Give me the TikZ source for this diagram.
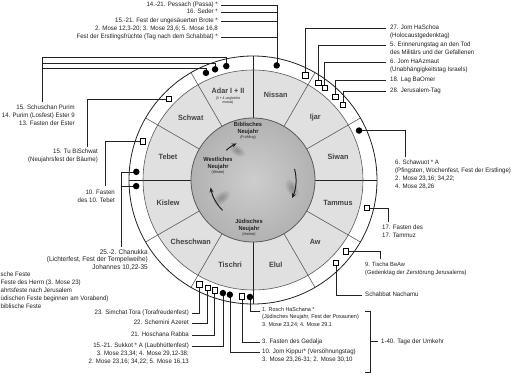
\documentclass[tikz,border=0pt]{standalone}
\usepackage{fontspec}
\setmainfont[FakeStretch=0.95]{Liberation Sans}
\usetikzlibrary{arrows.meta}
\definecolor{monthfill}{HTML}{E0E0E0}
\definecolor{discin}{HTML}{CDCDCD}
\definecolor{discout}{HTML}{B2B2B2}
\definecolor{ink}{HTML}{222222}
\definecolor{divgray}{HTML}{5A5A5A}
\begin{document}
\begin{tikzpicture}[x=1pt,y=-1pt,
  lab/.style={font=\fontsize{6.4}{7.8}\selectfont, inner sep=0pt, align=left, anchor=north west, text=ink},
  labr/.style={lab, align=right, anchor=north east},
  conn/.style={draw=ink, line width=0.45pt},
  dotm/.style={circle, fill=black, minimum size=6.5pt, inner sep=0pt},
  sqm/.style={rectangle, draw=black, fill=white, line width=0.55pt, minimum size=5.5pt, inner sep=0pt},
  month/.style={font=\fontsize{7.6}{9}\selectfont\bfseries, text=ink!85, inner sep=0pt},
  disclab/.style={font=\fontsize{5.9}{6.6}\selectfont\bfseries, text=ink, inner sep=0pt, align=center, anchor=north},
  divider/.style={draw=divgray, line width=0.6pt},
  cardinal/.style={draw=ink, line width=0.9pt},
  wheelarrow/.style={draw=ink, line width=1pt, -{Stealth[length=5pt,width=4pt]}}]
\useasboundingbox (0,0) rectangle (525,383);
\clip (0,0) rectangle (525,383);
\fill[white] (0,0) rectangle (525,383);

% ---------------- wheel ----------------
\begin{scope}[shift={(253,180)}, yscale=-1]
  \fill[white] (0,0) circle[radius=124];
  \fill[monthfill] (0,0) circle[radius=110];
  \shade[inner color=discin, outer color=discout] (0,0) circle[radius=62];
  % soft shadows of the swirl
  \foreach \s in {1,...,6} {
    \fill[black, opacity=0.045, rotate around={60:(-12:40)}] (-12:40) ellipse[x radius=1.6*\s, y radius=0.9*\s];
    \fill[black, opacity=0.045, rotate around={-40:(-150:36)}] (-150:36) ellipse[x radius=1.6*\s, y radius=0.9*\s];
    \fill[black, opacity=0.045, rotate around={30:(118:33)}] (118:33) ellipse[x radius=1.4*\s, y radius=0.8*\s];
  }
  \foreach \a in {30,60,120,150,210,240,300,330} \draw[divider] (\a:62) -- (\a:124);
  \foreach \a in {0,90,180,270} \draw[cardinal] (\a:62) -- (\a:124);
  \draw[draw=divgray, line width=0.6pt] (0,0) circle[radius=110];
  \draw[draw=ink, line width=0.8pt] (0,0) circle[radius=124];
  \draw[draw=divgray, line width=0.8pt] (0,0) circle[radius=62];
  % swirl arrows
  \draw[wheelarrow] (225:43) arc[start angle=225, end angle=190, radius=43];
  \draw[wheelarrow] (132:40) arc[start angle=132, end angle=114, radius=40];
  \draw[wheelarrow] (15:43) arc[start angle=15, end angle=-25, radius=43];
  % months
  \node[month] (nissan) at (75:88) {Nissan};
  \node[month] (ijar) at (45:88) {Ijar};
  \node[month] (siwan) at (15:88) {Siwan};
  \node[month] (tammus) at (-15:88) {Tammus};
  \node[month] (aw) at (-45:88) {Aw};
  \node[month] (elul) at (-75:88) {Elul};
  \node[month] (tischri) at (-105:88) {Tischri};
  \node[month] (cheschwan) at (-135:88) {Cheschwan};
  \node[month] (kislew) at (-165:88) {Kislew};
  \node[month] (tebet) at (165:88) {Tebet};
  \node[month] (schwat) at (135:88) {Schwat};
  % marker positions
  \coordinate (pA1) at (113.7:117);
  \coordinate (pA2) at (108.9:117);
  \coordinate (pA3) at (103.2:117);
  \coordinate (pN) at (78.3:117);
  \coordinate (pS1) at (63.4:117);
  \coordinate (pS2) at (56:117);
  \coordinate (pS3) at (52.2:117);
  \coordinate (pS4) at (45.3:117);
  \coordinate (pS5) at (39.9:117);
  \coordinate (pW) at (25:117);
  \coordinate (pT) at (-13.8:117);
  \coordinate (pAw1) at (-37.4:117);
  \coordinate (pAw2) at (-45:117);
  \coordinate (pR) at (-91.5:117);
  \coordinate (pG) at (-95.4:117);
  \coordinate (pK) at (-101.4:117);
  \coordinate (pSu) at (-104.9:117);
  \coordinate (pH) at (-109.2:117);
  \coordinate (pSA) at (-112.8:117);
  \coordinate (pST) at (-117.2:117);
  \coordinate (pC1) at (176:117);
  \coordinate (pC2) at (183:117);
  \coordinate (pTe) at (160.6:117);
  \coordinate (pTu) at (136:117);
\end{scope}

% Adar and disc labels
\node[month] (adar) at (228,91) {Adar I + II};
\node[font=\fontsize{3.6}{4}\selectfont, inner sep=0pt, align=center, text=ink] (adarsub) at (228,100.5) {(3 + 4 ungleiche\\monat)};
\node[disclab] (bib) at (248,122) {Biblisches\\Neujahr\\[-1pt]{\fontsize{3.8}{4.2}\selectfont\mdseries (Frühling)}};
\node[disclab] (west) at (218,157) {Westliches\\Neujahr\\[-1pt]{\fontsize{3.8}{4.2}\selectfont\mdseries (Winter)}};
\node[disclab] (jued) at (249,219) {Jüdisches\\Neujahr\\[-1pt]{\fontsize{3.8}{4.2}\selectfont\mdseries (Herbst)}};

% ---------------- labels ----------------
\node[labr] (pes1) at (218,2) {14.-21. Pessach (Passa) *};
\node[labr] (pes2) at (218,9) {16. Seder *};
\node[labr] (pes3) at (218,18) {15.-21. Fest der ungesäuerten Brote *\\2. Mose 12,3-20; 3. Mose 23,6; 5. Mose 16,8};
\node[labr] (pes4) at (218,34) {Fest der Erstlingsfrüchte (Tag nach dem Schabbat) *};

\node[lab] (schoa) at (390,25) {27. Jom HaSchoa\\(Holocaustgedenktag)};
\node[lab] (erinn) at (390,42) {5. Erinnerungstag an den Tod\\des Militärs und der Gefallenen};
\node[lab] (atz) at (390,59) {6. Jom HaAzmaut\\(Unabhängigkeitstag Israels)};
\node[lab] (lag) at (390,77) {18. Lag BaOmer};
\node[lab] (jer) at (390,88) {28. Jerusalem-Tag};
\node[lab] (schaw) at (395,160) {6. Schawuot * A\\(Pfingsten, Wochenfest, Fest der Erstlinge)\\2. Mose 23,16; 34,22;\\4. Mose 28,26};
\node[lab] (tam) at (382,225) {17. Fasten des\\17. Tammuz};
\node[lab, font=\fontsize{6}{7.8}\selectfont] (tisch) at (365,262) {9. Tischa BeAw\\(Gedenktag der Zerstörung Jerusalems)};
\node[lab] (nach) at (365,292) {Schabbat Nachamu};
\node[lab] (umk) at (381,338.4) {1-40. Tage der Umkehr};
\node[lab, font=\fontsize{5.7}{7.4}\selectfont] (rosch) at (262,307.2) {1. Rosch HaSchana *\\(Jüdisches Neujahr, Fest der Posaunen)\\3. Mose 23,24; 4. Mose 29,1};
\node[lab] (ged) at (262,339) {3. Fasten des Gedalja};
\node[lab] (kip) at (262,349) {10. Jom Kippur* (Versöhnungstag)\\3. Mose 23,26-31; 2. Mose 30,10};

\node[labr] (st) at (189,310) {23. Simchat Tora (Torafreudenfest)};
\node[labr] (sa) at (189,320) {22. Schemini Azeret};
\node[labr] (hr) at (189,332) {21. Hoschana Rabba};
\node[labr] (suk) at (189,343) {15.-21. Sukkot * A (Laubhüttenfest)\\3. Mose 23,34; 4. Mose 29,12-38;\\2. Mose 23,16; 34,22; 5. Mose 16,13};
\node[labr, font=\fontsize{6.8}{7.8}\selectfont] (chan) at (148,249) {25.-2. Chanukka\\(Lichterfest, Fest der Tempelweihe)\\Johannes 10,22-35};
\node[labr] (teb) at (115,190) {10. Fasten\\des 10. Tebet};
\node[labr] (tu) at (98,149) {15. Tu BiSchwat\\(Neujahrsfest der Bäume)};
\node[labr] (purim) at (75,105) {15. Schuschan Purim\\14. Purim (Losfest) Ester 9\\13. Fasten der Ester};

% legend (as far as the picture shows it, cut at the left edge)
\node[lab] (leg1) at (0.5,272) {sche Feste};
\node[lab] (leg2) at (0.5,280) {Feste des Herrn (3. Mose 23)};
\node[lab] (leg3) at (0.5,288) {ahrtsfeste nach Jerusalem};
\node[lab] (leg4) at (0.5,296) {üdischen Feste beginnen am Vorabend)};
\node[lab] (leg5) at (0.5,304) {biblische Feste};

% ---------------- connectors ----------------
\coordinate (cP1) at (221,5);
\coordinate (cP2) at (221,12);
\coordinate (cP3) at (221,21);
\coordinate (cP4) at (221,37);
\foreach \c in {cP1,cP2,cP3,cP4} \draw[conn] (pN) |- (\c);
\coordinate (cU1) at (42,57);
\coordinate (cU2) at (42,63);
\coordinate (cU3) at (42,68);
\coordinate (cU4) at (42,102);
\draw[conn] (pA3) |- (cU1) -- (cU4);
\draw[conn] (pA2) |- (cU2);
\draw[conn] (pA1) |- (cU3);
\coordinate (cS1) at (386,28);
\coordinate (cS2) at (386,45);
\coordinate (cS3) at (386,62);
\coordinate (cS4) at (386,80);
\coordinate (cS5) at (386,91);
\draw[conn] (pS1) |- (cS1);
\draw[conn] (pS2) |- (cS2);
\draw[conn] (pS3) |- (cS3);
\draw[conn] (pS4) |- (cS4);
\draw[conn] (pS5) |- (cS5);
\coordinate (cW) at (405,157);
\draw[conn] (pW) -| (cW);
\coordinate (cT) at (388,222);
\draw[conn] (pT) -| (cT);
\coordinate (cAw1) at (380,259);
\draw[conn] (pAw1) -| (cAw1);
\coordinate (cAw2) at (362,295);
\draw[conn] (pAw2) |- (cAw2);
\coordinate (cR) at (260,311);
\coordinate (cG) at (260,342);
\coordinate (cK) at (260,352);
\draw[conn] (pR) |- (cR);
\draw[conn] (pG) |- (cG);
\draw[conn] (pK) |- (cK);
\coordinate (cSu) at (192,346);
\coordinate (cH) at (192,335);
\coordinate (cSA) at (192,323);
\coordinate (cST) at (192,313);
\draw[conn] (pSu) |- (cSu);
\draw[conn] (pH) |- (cH);
\draw[conn] (pSA) |- (cSA);
\draw[conn] (pST) |- (cST);
\coordinate (cC) at (121,247);
\draw[conn] (pC1) -| (cC);
\draw[conn] (pC2) -| (cC);
\coordinate (cTe) at (105,186);
\draw[conn] (pTe) -| (cTe);
\coordinate (cTu) at (87,147);
\draw[conn] (pTu) -| (cTu);
% bracket 1-40
\coordinate (bA) at (365,311);
\coordinate (bB) at (370,311);
\coordinate (bC) at (370,372);
\coordinate (bD) at (365,372);
\coordinate (bM) at (370,341.5);
\coordinate (bN) at (378,341.5);
\draw[conn] (bA) -- (bB) -- (bC) -- (bD);
\draw[conn] (bM) -- (bN);

% ---------------- markers ----------------
\foreach \p in {pA1,pA2,pA3,pN,pW,pR,pK,pSu,pC1,pC2}
  \node[dotm] (m\p) at (\p) {};
\foreach \p in {pS1,pS2,pS3,pS4,pS5,pT,pAw1,pAw2,pG,pH,pSA,pST,pTe,pTu}
  \node[sqm] (m\p) at (\p) {};
\end{tikzpicture}
\end{document}
